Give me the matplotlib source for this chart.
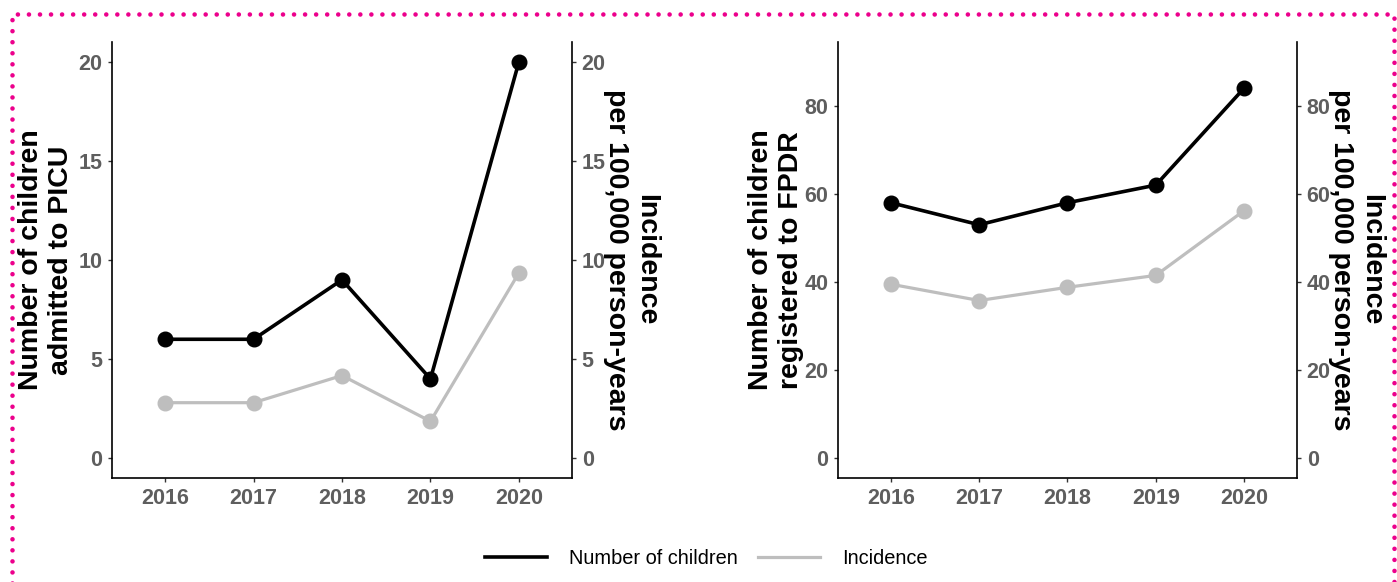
import matplotlib
matplotlib.use("Agg")
import matplotlib.pyplot as plt
from matplotlib.lines import Line2D

# ---- data ----
years = [2016, 2017, 2018, 2019, 2020]
picu_children = [6, 6, 9, 4, 20]
picu_incidence = [2.8, 2.8, 4.17, 1.86, 9.35]
fpdr_children = [58, 53, 58, 62, 84]
fpdr_incidence = [39.5, 35.8, 38.8, 41.5, 56.2]

picu_ticks = [0, 5, 10, 15, 20]
fpdr_ticks = [0, 20, 40, 60, 80]

left_title_picu = "Number of children\nadmitted to PICU"
left_title_fpdr = "Number of children\nregistered to FPDR"
right_title = "Incidence\nper 100,000 person-years"
legend_labels = ["Number of children", "Incidence"]

# ---- style ----
plt.rcParams['font.family'] = ['Liberation Sans', 'DejaVu Sans']
BLACK = '#000000'
GREY = '#BEBEBE'
TICKCOL = '#5E5E5E'
W, H = 1397, 582

fig = plt.figure(figsize=(W / 100, H / 100), dpi=100)

def px_rect(x0, x1, ytop, ybot):
    return [x0 / W, 1 - ybot / H, (x1 - x0) / W, (ybot - ytop) / H]

panels = [
    dict(rect=px_rect(112, 572, 42, 478), children=picu_children, inc=picu_incidence,
         ticks=picu_ticks, ylim=(-1, 21), ltitle=left_title_picu, lx=-0.1435, rx=1.129),
    dict(rect=px_rect(838, 1297, 42, 478), children=fpdr_children, inc=fpdr_incidence,
         ticks=fpdr_ticks, ylim=(-4.5, 94.5), ltitle=left_title_fpdr, lx=-0.136, rx=1.1285),
]

for p in panels:
    ax = fig.add_axes(p['rect'])
    ax2 = ax.twinx()
    ax.plot(years, p['inc'], color=GREY, lw=2.3, marker='o', ms=10.5, zorder=2)
    ax.plot(years, p['children'], color=BLACK, lw=2.6, marker='o', ms=10.5, zorder=3)
    for a in (ax, ax2):
        a.set_xlim(2015.4, 2020.6)
        a.set_ylim(*p['ylim'])
        a.set_yticks(p['ticks'])
        a.spines['top'].set_visible(False)
        for s in a.spines.values():
            s.set_linewidth(1.2)
            s.set_color('black')
        a.tick_params(axis='both', length=3, width=1, color='#333333', pad=4,
                      labelsize=15.5, labelcolor=TICKCOL)
        for lab in a.get_xticklabels() + a.get_yticklabels():
            lab.set_fontweight('bold')
    ax.spines['right'].set_visible(False)
    ax2.spines['left'].set_visible(False)
    ax2.spines['bottom'].set_visible(False)
    ax.set_xticks(years)
    ax.set_xticklabels([str(y) for y in years], fontweight='bold')
    ax.patch.set_alpha(0)
    ax2.patch.set_alpha(0)

    ax.set_ylabel(p['ltitle'], fontsize=20.5, fontweight='bold', color='black',
                  rotation=90, ha='center', va='center', linespacing=1.2,
                  multialignment='center')
    ax.yaxis.set_label_coords(p['lx'], 0.5)
    ax2.set_ylabel(right_title, fontsize=20.5, fontweight='bold', color='black',
                   rotation=270, ha='center', va='center', linespacing=1.2,
                   multialignment='center')
    ax2.yaxis.set_label_coords(p['rx'], 0.5)
    ax.yaxis.label.set_rotation_mode('anchor')
    ax2.yaxis.label.set_rotation_mode('anchor')

# legend
handles = [Line2D([], [], color=BLACK, lw=2.6), Line2D([], [], color=GREY, lw=2.3)]
fig.legend(handles, legend_labels, loc='center', bbox_to_anchor=(706 / W, 1 - 558 / H),
           ncol=2, frameon=False, fontsize=14.4, handlelength=3.1, handletextpad=1.1,
           columnspacing=1.0)

# pink dotted border
xl, xr, yt = 12 / W, 1394 / W, 1 - 14 / H
border = Line2D([xl, xl, xr, xr], [-0.02, yt, yt, -0.02], transform=fig.transFigure,
                color='#EC008C', lw=3.3, linestyle=(0, (0.01, 2.4)),
                dash_capstyle='round', solid_capstyle='round')
fig.add_artist(border)

fig.savefig('out.png', dpi=100)
